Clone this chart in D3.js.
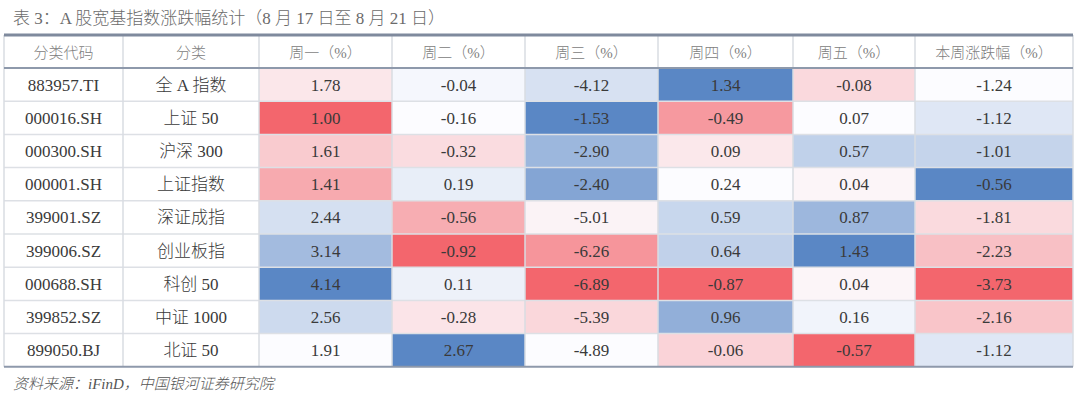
<!DOCTYPE html>
<html><head><meta charset="utf-8">
<script src="https://cdn.jsdelivr.net/npm/d3@7"></script>
<style>
html,body{margin:0;padding:0;background:#fff;}
svg{display:block;}
</style></head>
<body>
<svg id="chart" width="1080" height="407"></svg>
<script>
const title = "表 3：A 股宽基指数涨跌幅统计（8 月 17 日至 8 月 21 日）";
const source = "资料来源：iFinD，中国银河证券研究院";
const headers = ["分类代码", "分类", "周一（%）", "周二（%）", "周三（%）", "周四（%）", "周五（%）", "本周涨跌幅（%）"];
const codes = ["883957.TI", "000016.SH", "000300.SH", "000001.SH", "399001.SZ", "399006.SZ", "000688.SH", "399852.SZ", "899050.BJ"];
const names = ["全 A 指数", "上证 50", "沪深 300", "上证指数", "深证成指", "创业板指", "科创 50", "中证 1000", "北证 50"];
const mon = [1.78, 1.00, 1.61, 1.41, 2.44, 3.14, 4.14, 2.56, 1.91];
const tue = [-0.04, -0.16, -0.32, 0.19, -0.56, -0.92, 0.11, -0.28, 2.67];
const wed = [-4.12, -1.53, -2.90, -2.40, -5.01, -6.26, -6.89, -5.39, -4.89];
const thu = [1.34, -0.49, 0.09, 0.24, 0.59, 0.64, -0.87, 0.96, -0.06];
const fri = [-0.08, 0.07, 0.57, 0.04, 0.87, 1.43, 0.04, 0.16, -0.57];
const week = [-1.24, -1.12, -1.01, -0.56, -1.81, -2.23, -3.73, -2.16, -1.12];

const valueCols = [mon, tue, wed, thu, fri, week];

const svg = d3.select("#chart");
const colEdges = [4, 123, 259, 392, 525, 658, 793, 915, 1073];
const tableTop = 35, headerBottom = 68, rowH = 33.2;
const nRows = codes.length;
const tableBottom = headerBottom + rowH * nRows;

const serif = "'Liberation Serif', 'Noto Sans CJK SC', serif";

// title
svg.append("text").attr("x", 13).attr("y", 24)
  .attr("font-family", serif)
  .attr("font-size", 17).attr("font-weight", 300).attr("fill", "#6b6b6b").text(title);

const rowY = i => headerBottom + i * rowH;

// colored cells (3-colour scale per column: min / median / max)
valueCols.forEach((vals, c) => {
  const sorted = vals.slice().sort(d3.ascending);
  const color = d3.scaleLinear()
    .domain([d3.min(vals), d3.median(sorted), d3.max(vals)])
    .range(["#f3666d", "#fcfcff", "#5a87c5"])
    .interpolate(d3.interpolateRgb);
  const x0 = colEdges[c + 2], x1 = colEdges[c + 3];
  svg.append("g").selectAll("rect").data(vals).join("rect")
    .attr("x", x0).attr("y", (d, i) => rowY(i))
    .attr("width", x1 - x0).attr("height", rowH)
    .attr("fill", d => color(d));
});

// grid lines horizontal
for (let i = 1; i < nRows; i++) {
  svg.append("line").attr("x1", colEdges[0]).attr("x2", colEdges[8])
    .attr("y1", rowY(i)).attr("y2", rowY(i))
    .attr("stroke", "#dde0e5").attr("stroke-width", 1.5);
}
// vertical lines
colEdges.forEach(x => {
  svg.append("line").attr("x1", x).attr("x2", x)
    .attr("y1", tableTop).attr("y2", tableBottom)
    .attr("stroke", "#d9dce2").attr("stroke-width", 1.5);
});
// strong lines
svg.append("line").attr("x1", colEdges[0]).attr("x2", colEdges[8])
  .attr("y1", tableTop).attr("y2", tableTop).attr("stroke", "#7f8a9d").attr("stroke-width", 3);
svg.append("line").attr("x1", colEdges[0]).attr("x2", colEdges[8])
  .attr("y1", headerBottom).attr("y2", headerBottom).attr("stroke", "#8e99ab").attr("stroke-width", 2);
svg.append("line").attr("x1", colEdges[0]).attr("x2", colEdges[8])
  .attr("y1", tableBottom).attr("y2", tableBottom).attr("stroke", "#8e99ab").attr("stroke-width", 2);

// headers
svg.append("g").selectAll("text").data(headers).join("text")
  .attr("x", (d, i) => (colEdges[i] + colEdges[i + 1]) / 2)
  .attr("y", (tableTop + headerBottom) / 2 + 6)
  .attr("text-anchor", "middle")
  .attr("font-family", serif).attr("font-size", 15).attr("font-weight", 300)
  .attr("fill", "#808080").text(d => d);

// body text
const textCols = [codes, names, ...valueCols.map(v => v.map(d => d.toFixed(2)))];
textCols.forEach((vals, c) => {
  svg.append("g").selectAll("text").data(vals).join("text")
    .attr("x", (colEdges[c] + colEdges[c + 1]) / 2)
    .attr("y", (d, i) => rowY(i) + rowH / 2 + 6)
    .attr("text-anchor", "middle")
    .attr("font-family", serif).attr("font-size", 17).attr("font-weight", 300)
    .attr("fill", "#3a3a3a").text(d => d);
});

// source
svg.append("text").attr("x", 13).attr("y", 389)
  .attr("font-family", serif)
  .attr("font-style", "italic").attr("font-size", 15).attr("font-weight", 300)
  .attr("fill", "#555").text(source);
</script>
</body></html>
